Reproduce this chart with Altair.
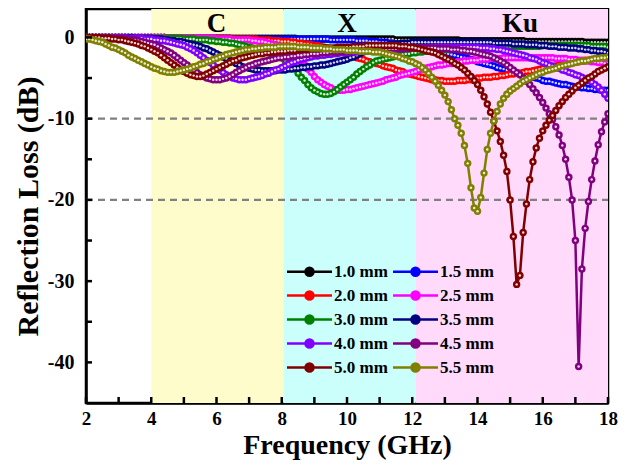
import altair as alt
import pandas as pd

# ---------------- data ----------------
FREQ = [round(2 + 0.1 * i, 1) for i in range(161)]  # 2.0 ... 18.0 GHz grid

SERIES = ["1.0 mm", "1.5 mm", "2.0 mm", "2.5 mm", "3.0 mm",
          "3.5 mm", "4.0 mm", "4.5 mm", "5.0 mm", "5.5 mm"]
COLORS = ["#000000", "#0000FF", "#FF0000", "#FF00FF", "#008000",
          "#000080", "#8000FF", "#800080", "#800000", "#808000"]

RL_10 = [0.0, 0.0, 0.0, 0.0, 0.0, 0.0, 0.0, 0.0, 0.0, 0.0,
         0.0, 0.0, 0.0, 0.0, 0.0, 0.0, 0.0, 0.0, 0.0, 0.0,
         0.0, 0.0, 0.0, 0.0, 0.0, -0.1, -0.1, -0.1, -0.1, -0.1,
         -0.1, -0.1, -0.1, -0.1, -0.1, -0.1, -0.1, -0.1, -0.1, -0.1,
         -0.1, -0.1, -0.1, -0.1, -0.1, -0.1, -0.1, -0.1, -0.1, -0.1,
         -0.1, -0.1, -0.1, -0.1, -0.1, -0.1, -0.1, -0.1, -0.1, -0.1,
         -0.1, -0.1, -0.1, -0.1, -0.1, -0.2, -0.2, -0.2, -0.2, -0.2,
         -0.2, -0.2, -0.2, -0.2, -0.2, -0.2, -0.2, -0.2, -0.2, -0.2,
         -0.2, -0.2, -0.2, -0.2, -0.2, -0.2, -0.2, -0.2, -0.2, -0.2,
         -0.2, -0.2, -0.2, -0.2, -0.2, -0.3, -0.3, -0.3, -0.3, -0.3,
         -0.3, -0.3, -0.3, -0.3, -0.3, -0.3, -0.3, -0.3, -0.3, -0.3,
         -0.3, -0.3, -0.3, -0.3, -0.3, -0.4, -0.4, -0.4, -0.4, -0.4,
         -0.4, -0.4, -0.4, -0.4, -0.4, -0.4, -0.4, -0.4, -0.4, -0.4,
         -0.4, -0.4, -0.4, -0.4, -0.4, -0.5, -0.5, -0.5, -0.5, -0.5,
         -0.5, -0.5, -0.5, -0.5, -0.5, -0.5, -0.5, -0.5, -0.5, -0.5,
         -0.5, -0.5, -0.5, -0.6, -0.6, -0.6, -0.6, -0.6, -0.6, -0.6,
         -0.6]

RL_15 = [0.0, 0.0, 0.0, 0.0, 0.0, 0.0, 0.0, 0.0, 0.0, 0.0,
         0.0, 0.0, 0.0, 0.0, 0.0, 0.0, 0.0, 0.0, 0.0, 0.0,
         0.0, 0.0, 0.0, 0.0, 0.0, -0.1, -0.1, -0.1, -0.1, -0.1,
         -0.1, -0.1, -0.1, -0.1, -0.1, -0.1, -0.1, -0.1, -0.1, -0.1,
         -0.1, -0.1, -0.1, -0.1, -0.1, -0.2, -0.2, -0.2, -0.2, -0.2,
         -0.2, -0.2, -0.2, -0.2, -0.2, -0.2, -0.2, -0.2, -0.2, -0.2,
         -0.2, -0.2, -0.2, -0.2, -0.2, -0.2, -0.2, -0.2, -0.2, -0.2,
         -0.2, -0.2, -0.2, -0.2, -0.2, -0.3, -0.3, -0.3, -0.3, -0.3,
         -0.3, -0.3, -0.3, -0.4, -0.4, -0.4, -0.4, -0.5, -0.5, -0.5,
         -0.6, -0.6, -0.6, -0.7, -0.7, -0.8, -0.8, -0.9, -0.9, -1.0,
         -1.1, -1.1, -1.2, -1.3, -1.3, -1.4, -1.5, -1.6, -1.7, -1.8,
         -1.9, -2.0, -2.1, -2.2, -2.3, -2.4, -2.5, -2.6, -2.7, -2.8,
         -3.0, -3.1, -3.2, -3.3, -3.4, -3.5, -3.7, -3.8, -3.9, -4.0,
         -4.2, -4.3, -4.4, -4.5, -4.6, -4.7, -4.8, -4.9, -5.0, -5.1,
         -5.3, -5.4, -5.4, -5.5, -5.6, -5.7, -5.8, -5.8, -5.9, -6.0,
         -6.1, -6.1, -6.2, -6.2, -6.3, -6.3, -6.4, -6.4, -6.5, -6.5,
         -6.5]

RL_20 = [0.0, 0.0, 0.0, 0.0, 0.0, 0.0, 0.0, 0.0, 0.0, 0.0,
         0.0, 0.0, 0.0, 0.0, 0.0, 0.0, 0.0, 0.0, 0.0, 0.0,
         0.0, 0.0, 0.0, 0.0, 0.0, -0.1, -0.1, -0.1, -0.1, -0.1,
         -0.1, -0.1, -0.1, -0.1, -0.1, -0.1, -0.1, -0.1, -0.1, -0.1,
         -0.1, -0.1, -0.1, -0.1, -0.1, -0.2, -0.2, -0.2, -0.2, -0.2,
         -0.2, -0.2, -0.2, -0.3, -0.3, -0.3, -0.3, -0.4, -0.4, -0.4,
         -0.5, -0.5, -0.5, -0.6, -0.6, -0.7, -0.7, -0.8, -0.8, -0.9,
         -1.0, -1.0, -1.1, -1.2, -1.3, -1.4, -1.5, -1.6, -1.8, -1.9,
         -2.0, -2.2, -2.3, -2.5, -2.6, -2.7, -2.9, -3.0, -3.1, -3.2,
         -3.3, -3.5, -3.6, -3.7, -3.8, -4.0, -4.1, -4.2, -4.4, -4.5,
         -4.6, -4.7, -4.8, -4.9, -5.0, -5.1, -5.2, -5.2, -5.3, -5.3,
         -5.4, -5.4, -5.4, -5.4, -5.3, -5.3, -5.3, -5.2, -5.2, -5.1,
         -5.0, -5.0, -4.9, -4.9, -4.9, -4.8, -4.8, -4.7, -4.7, -4.6,
         -4.5, -4.5, -4.4, -4.4, -4.3, -4.2, -4.2, -4.1, -4.0, -3.9,
         -3.8, -3.7, -3.7, -3.6, -3.5, -3.4, -3.3, -3.2, -3.2, -3.1,
         -3.0, -3.0, -2.9, -2.8, -2.8, -2.7, -2.7, -2.6, -2.5, -2.5,
         -2.4]

RL_25 = [0.0, 0.0, 0.0, 0.0, 0.0, 0.0, 0.0, 0.0, 0.0, 0.0,
         0.0, 0.0, 0.0, 0.0, 0.0, 0.0, 0.0, 0.0, 0.0, 0.0,
         0.0, 0.0, 0.0, 0.0, 0.0, -0.1, -0.1, -0.1, -0.1, -0.1,
         -0.1, -0.1, -0.1, -0.1, -0.1, -0.1, -0.1, -0.1, -0.1, -0.1,
         -0.2, -0.2, -0.2, -0.2, -0.2, -0.3, -0.3, -0.3, -0.3, -0.3,
         -0.3, -0.4, -0.4, -0.5, -0.5, -0.6, -0.7, -0.8, -0.9, -1.0,
         -1.2, -1.4, -1.6, -1.9, -2.2, -2.6, -3.0, -3.4, -3.9, -4.3,
         -4.8, -5.2, -5.5, -5.8, -6.0, -6.2, -6.4, -6.5, -6.5, -6.5,
         -6.4, -6.4, -6.3, -6.2, -6.1, -6.0, -5.9, -5.8, -5.7, -5.6,
         -5.5, -5.4, -5.2, -5.1, -5.0, -4.9, -4.7, -4.6, -4.5, -4.4,
         -4.3, -4.2, -4.0, -3.9, -3.8, -3.7, -3.6, -3.5, -3.4, -3.4,
         -3.3, -3.2, -3.2, -3.1, -3.0, -3.0, -2.9, -2.9, -2.8, -2.8,
         -2.8, -2.7, -2.7, -2.7, -2.6, -2.6, -2.6, -2.6, -2.5, -2.5,
         -2.5, -2.5, -2.5, -2.5, -2.5, -2.5, -2.5, -2.5, -2.5, -2.5,
         -2.5, -2.5, -2.5, -2.5, -2.6, -2.6, -2.6, -2.6, -2.7, -2.7,
         -2.7, -2.8, -2.8, -2.9, -2.9, -3.0, -3.0, -3.1, -3.1, -3.2,
         -3.2]

RL_30 = [0.0, 0.0, 0.0, 0.0, 0.0, 0.0, 0.0, 0.0, 0.0, 0.0,
         0.0, 0.0, 0.0, 0.0, 0.0, -0.1, -0.1, -0.1, -0.1, -0.1,
         -0.1, -0.1, -0.1, -0.1, -0.1, -0.1, -0.1, -0.1, -0.1, -0.1,
         -0.2, -0.2, -0.2, -0.2, -0.3, -0.3, -0.3, -0.3, -0.4, -0.4,
         -0.5, -0.5, -0.6, -0.6, -0.7, -0.7, -0.8, -0.9, -1.0, -1.1,
         -1.2, -1.3, -1.4, -1.5, -1.6, -1.8, -1.9, -2.0, -2.2, -2.3,
         -2.5, -2.8, -3.1, -3.5, -3.9, -4.4, -4.9, -5.3, -5.8, -6.2,
         -6.5, -6.7, -6.9, -7.0, -7.0, -6.9, -6.7, -6.4, -6.1, -5.8,
         -5.5, -5.2, -4.9, -4.5, -4.2, -3.9, -3.6, -3.4, -3.1, -2.9,
         -2.8, -2.7, -2.6, -2.5, -2.4, -2.3, -2.2, -2.1, -2.0, -2.0,
         -1.9, -1.9, -1.8, -1.8, -1.7, -1.7, -1.6, -1.6, -1.6, -1.5,
         -1.5, -1.5, -1.4, -1.4, -1.4, -1.4, -1.3, -1.3, -1.3, -1.3,
         -1.3, -1.2, -1.2, -1.2, -1.2, -1.2, -1.2, -1.1, -1.1, -1.1,
         -1.1, -1.1, -1.1, -1.1, -1.1, -1.1, -1.1, -1.1, -1.1, -1.1,
         -1.0, -1.0, -1.0, -1.0, -1.0, -1.0, -1.0, -1.0, -1.0, -1.0,
         -1.0, -1.0, -1.0, -1.0, -1.0, -1.1, -1.1, -1.1, -1.1, -1.1,
         -1.2]

RL_35 = [0.0, 0.0, 0.0, 0.0, 0.0, 0.0, 0.0, 0.0, 0.0, 0.0,
         0.0, 0.0, 0.0, 0.0, 0.0, -0.1, -0.1, -0.1, -0.1, -0.1,
         -0.1, -0.2, -0.2, -0.2, -0.3, -0.3, -0.4, -0.4, -0.5, -0.5,
         -0.6, -0.7, -0.8, -0.9, -1.0, -1.1, -1.3, -1.4, -1.6, -1.8,
         -2.0, -2.2, -2.4, -2.6, -2.8, -3.0, -3.2, -3.4, -3.6, -3.7,
         -3.8, -3.9, -4.0, -4.0, -4.1, -4.1, -4.1, -4.1, -4.1, -4.0,
         -4.0, -4.0, -3.9, -3.9, -3.8, -3.8, -3.7, -3.7, -3.6, -3.6,
         -3.5, -3.5, -3.4, -3.4, -3.3, -3.2, -3.1, -3.0, -2.9, -2.8,
         -2.7, -2.5, -2.4, -2.2, -2.0, -1.8, -1.7, -1.5, -1.4, -1.3,
         -1.2, -1.1, -1.0, -0.9, -0.9, -0.8, -0.8, -0.7, -0.7, -0.7,
         -0.6, -0.6, -0.6, -0.6, -0.6, -0.6, -0.6, -0.6, -0.6, -0.6,
         -0.6, -0.6, -0.6, -0.6, -0.6, -0.6, -0.6, -0.6, -0.6, -0.6,
         -0.6, -0.6, -0.6, -0.6, -0.6, -0.7, -0.7, -0.7, -0.7, -0.7,
         -0.7, -0.8, -0.8, -0.8, -0.8, -0.9, -0.9, -0.9, -0.9, -1.0,
         -1.0, -1.0, -1.1, -1.1, -1.1, -1.2, -1.2, -1.2, -1.3, -1.3,
         -1.3, -1.4, -1.4, -1.5, -1.5, -1.6, -1.6, -1.7, -1.7, -1.8,
         -1.9]

RL_40 = [0.0, 0.0, 0.0, 0.0, 0.0, 0.0, 0.0, 0.0, 0.0, 0.0,
         0.0, 0.0, 0.0, -0.1, -0.1, -0.1, -0.1, -0.1, -0.2, -0.2,
         -0.2, -0.3, -0.3, -0.4, -0.4, -0.5, -0.6, -0.7, -0.8, -0.9,
         -1.0, -1.2, -1.4, -1.6, -1.9, -2.2, -2.5, -2.8, -3.1, -3.4,
         -3.7, -4.0, -4.3, -4.6, -4.8, -5.0, -5.1, -5.2, -5.2, -5.2,
         -5.1, -5.0, -4.9, -4.8, -4.7, -4.5, -4.4, -4.2, -4.0, -3.9,
         -3.7, -3.5, -3.3, -3.1, -3.0, -2.8, -2.7, -2.6, -2.5, -2.4,
         -2.3, -2.3, -2.2, -2.2, -2.1, -2.1, -2.0, -2.0, -1.9, -1.9,
         -1.9, -1.8, -1.8, -1.8, -1.7, -1.7, -1.7, -1.6, -1.6, -1.6,
         -1.5, -1.5, -1.5, -1.5, -1.4, -1.4, -1.4, -1.4, -1.3, -1.3,
         -1.3, -1.3, -1.3, -1.3, -1.3, -1.2, -1.2, -1.2, -1.2, -1.2,
         -1.2, -1.2, -1.2, -1.2, -1.2, -1.2, -1.2, -1.2, -1.2, -1.2,
         -1.2, -1.3, -1.3, -1.3, -1.4, -1.4, -1.5, -1.5, -1.6, -1.7,
         -1.8, -1.9, -2.0, -2.1, -2.2, -2.3, -2.5, -2.6, -2.7, -2.9,
         -3.1, -3.2, -3.4, -3.5, -3.7, -3.8, -4.0, -4.1, -4.3, -4.4,
         -4.6, -4.7, -4.9, -5.1, -5.3, -5.5, -5.8, -6.1, -6.5, -7.0,
         -7.5]

RL_45 = [0.0, 0.0, 0.0, 0.0, 0.0, 0.0, 0.0, 0.0, -0.1, -0.1,
         -0.1, -0.1, -0.2, -0.2, -0.3, -0.3, -0.4, -0.5, -0.6, -0.7,
         -0.8, -0.9, -1.1, -1.3, -1.5, -1.7, -1.9, -2.2, -2.5, -2.8,
         -3.1, -3.4, -3.7, -4.0, -4.3, -4.6, -4.8, -5.0, -5.1, -5.2,
         -5.2, -5.2, -5.1, -5.0, -4.8, -4.6, -4.3, -4.1, -3.9, -3.7,
         -3.5, -3.4, -3.2, -3.1, -3.0, -2.9, -2.8, -2.7, -2.6, -2.5,
         -2.5, -2.4, -2.4, -2.3, -2.3, -2.2, -2.2, -2.1, -2.1, -2.0,
         -2.0, -2.0, -1.9, -1.9, -1.9, -1.8, -1.8, -1.8, -1.7, -1.7,
         -1.7, -1.7, -1.6, -1.6, -1.6, -1.6, -1.5, -1.5, -1.5, -1.5,
         -1.4, -1.4, -1.4, -1.4, -1.4, -1.4, -1.4, -1.4, -1.4, -1.4,
         -1.3, -1.3, -1.3, -1.3, -1.3, -1.3, -1.3, -1.3, -1.4, -1.4,
         -1.4, -1.4, -1.5, -1.5, -1.5, -1.6, -1.6, -1.7, -1.7, -1.8,
         -1.9, -2.0, -2.1, -2.2, -2.3, -2.5, -2.7, -2.9, -3.1, -3.4,
         -3.7, -4.0, -4.3, -4.6, -5.0, -5.4, -5.8, -6.3, -6.8, -7.4,
         -8.0, -8.7, -9.4, -10.1, -11.0, -12.0, -13.3, -15.0, -17.2, -20.0,
         -25.0, -40.5, -28.5, -23.5, -20.2, -17.5, -15.2, -13.2, -11.6, -10.4,
         -9.4]

RL_50 = [0.0, 0.0, 0.0, 0.0, 0.0, -0.1, -0.1, -0.1, -0.2, -0.2,
         -0.3, -0.3, -0.4, -0.5, -0.6, -0.7, -0.8, -1.0, -1.1, -1.3,
         -1.5, -1.7, -1.9, -2.2, -2.5, -2.8, -3.1, -3.4, -3.7, -4.0,
         -4.2, -4.4, -4.6, -4.7, -4.8, -4.8, -4.7, -4.5, -4.3, -4.1,
         -3.9, -3.7, -3.5, -3.3, -3.1, -2.9, -2.8, -2.6, -2.5, -2.4,
         -2.3, -2.2, -2.1, -2.0, -2.0, -1.9, -1.9, -1.8, -1.8, -1.7,
         -1.7, -1.7, -1.6, -1.6, -1.6, -1.5, -1.5, -1.5, -1.5, -1.4,
         -1.4, -1.4, -1.4, -1.3, -1.3, -1.3, -1.3, -1.2, -1.2, -1.2,
         -1.2, -1.2, -1.1, -1.1, -1.1, -1.1, -1.0, -1.0, -1.0, -1.0,
         -1.0, -1.0, -1.0, -1.0, -1.0, -1.0, -1.1, -1.1, -1.1, -1.2,
         -1.2, -1.3, -1.4, -1.5, -1.6, -1.7, -1.8, -1.9, -2.1, -2.3,
         -2.5, -2.7, -2.9, -3.2, -3.4, -3.7, -4.0, -4.4, -4.8, -5.3,
         -5.8, -6.5, -7.3, -8.2, -9.2, -10.3, -11.5, -12.8, -14.5, -16.5,
         -20.0, -24.5, -30.4, -29.3, -24.0, -20.5, -17.5, -15.3, -13.6, -12.4,
         -11.5, -10.8, -10.2, -9.6, -9.0, -8.4, -7.9, -7.4, -7.0, -6.6,
         -6.2, -5.9, -5.6, -5.3, -5.0, -4.8, -4.5, -4.2, -4.0, -3.8,
         -3.6]

RL_55 = [-0.2, -0.2, -0.3, -0.4, -0.5, -0.6, -0.8, -1.0, -1.2, -1.3,
         -1.5, -1.7, -1.9, -2.2, -2.4, -2.6, -2.8, -3.0, -3.2, -3.4,
         -3.6, -3.8, -3.9, -4.1, -4.2, -4.3, -4.3, -4.3, -4.2, -4.1,
         -4.0, -3.9, -3.8, -3.6, -3.5, -3.3, -3.2, -3.0, -2.9, -2.7,
         -2.6, -2.4, -2.3, -2.1, -2.0, -1.9, -1.8, -1.7, -1.6, -1.5,
         -1.5, -1.4, -1.4, -1.3, -1.3, -1.2, -1.2, -1.2, -1.2, -1.1,
         -1.1, -1.1, -1.1, -1.1, -1.1, -1.2, -1.2, -1.2, -1.2, -1.3,
         -1.3, -1.3, -1.3, -1.4, -1.4, -1.4, -1.5, -1.5, -1.5, -1.5,
         -1.6, -1.6, -1.6, -1.6, -1.7, -1.7, -1.7, -1.7, -1.8, -1.8,
         -1.8, -1.9, -2.0, -2.1, -2.2, -2.3, -2.4, -2.6, -2.7, -2.9,
         -3.0, -3.2, -3.4, -3.7, -4.0, -4.4, -4.9, -5.4, -5.9, -6.5,
         -7.1, -7.9, -8.9, -10.0, -10.8, -11.8, -13.3, -15.5, -18.5, -21.0,
         -21.4, -19.7, -16.7, -13.8, -11.8, -10.3, -9.1, -8.2, -7.5, -7.0,
         -6.6, -6.3, -6.0, -5.7, -5.4, -5.2, -5.0, -4.8, -4.6, -4.4,
         -4.3, -4.1, -4.0, -3.9, -3.8, -3.6, -3.5, -3.4, -3.3, -3.2,
         -3.1, -3.0, -2.9, -2.9, -2.8, -2.7, -2.6, -2.6, -2.5, -2.5,
         -2.4]

VALUES = [RL_10, RL_15, RL_20, RL_25, RL_30, RL_35, RL_40, RL_45, RL_50, RL_55]

BAND_START = [4.0, 8.05, 12.1]
BAND_END = [8.05, 12.1, 18.0]
BAND_COLORS = ["#FFFCCB", "#CAFFFC", "#FFDAFB"]
BAND_NAMES = ["C", "X", "Ku"]
BAND_NAME_X = [6.0, 10.0, 15.3]
BAND_NAME_Y = [1.7, 1.7, 1.7]

REF_LINES = [-10, -20]
X_TICKS = [2, 4, 6, 8, 10, 12, 14, 16, 18]
X_MINOR = [3, 5, 7, 9, 11, 13, 15, 17]
Y_TICKS = [0, -10, -20, -30, -40]
Y_MINOR = [-5, -15, -25, -35]

# ---------------- build ----------------
W, H = 522, 394
FONT = "Liberation Serif"

rows = []
for name, vals in zip(SERIES, VALUES):
    if len(vals) != len(FREQ):
        raise ValueError(f"{name}: {len(vals)} values")
    for f, v in zip(FREQ, vals):
        rows.append({"freq": f, "rl": v, "series": name})
df = pd.DataFrame(rows)

xs = alt.Scale(domain=[2, 18], nice=False, zero=False)
ys = alt.Scale(domain=[-45, 3.5], nice=False, zero=False)

x_axis = alt.Axis(values=X_TICKS, ticks=False, grid=False, labelFontSize=19,
                  labelFont=FONT, labelFontWeight="bold", labelColor="black",
                  labelFlush=False, labelPadding=6, title="Frequency (GHz)",
                  titleFont=FONT, titleFontSize=28, titleFontWeight="bold",
                  titleColor="black", titlePadding=3, domainColor="black",
                  domainWidth=2.5)
y_axis = alt.Axis(values=Y_TICKS, ticks=False, grid=False, labelFontSize=20,
                  labelFont=FONT, labelFontWeight="bold", labelColor="black",
                  labelExpr="'' + datum.value", labelFlush=False,
                  labelPadding=12, title="Reflection Loss (dB)", titleFont=FONT,
                  titleFontSize=30, titleFontWeight="bold", titleColor="black",
                  titlePadding=4, domainColor="black", domainWidth=2.5)

# line-with-ball legend symbol (unit = 5 px for symbolSize 100)
LEGEND_SYMBOL = ("M-4.5,0L4.5,0M0.8,0A0.8,0.8,0,1,1,-0.8,0"
                 "A0.8,0.8,0,1,1,0.8,0Z")
legend = alt.Legend(
    title=None, orient="none", legendX=215, legendY=254, columns=2,
    direction="horizontal",
    symbolType=LEGEND_SYMBOL, symbolSize=100, symbolStrokeWidth=2.5,
    symbolOpacity=1,
    labelFont=FONT, labelFontSize=17, labelFontWeight="bold",
    labelColor="black", labelOffset=16, columnPadding=0, rowPadding=5,
    padding=0)
color = alt.Color("series:N", scale=alt.Scale(domain=SERIES, range=COLORS),
                  sort=SERIES, legend=legend)

bands_df = pd.DataFrame({"start": BAND_START, "end": BAND_END,
                         "col": BAND_COLORS})
bands = alt.Chart(bands_df).mark_rect().encode(
    x=alt.X("start:Q", scale=xs, axis=x_axis), x2="end:Q",
    y=alt.value(0), y2=alt.value(H),
    fill=alt.Fill("col:N", scale=None))

refs = alt.Chart(pd.DataFrame({"v": REF_LINES})).mark_rule(
    color="#808080", strokeWidth=2.2, strokeDash=[7, 5]).encode(
    y=alt.Y("v:Q", scale=ys, axis=y_axis), x=alt.value(0), x2=alt.value(W))

names = alt.Chart(pd.DataFrame({"t": BAND_NAMES, "x": BAND_NAME_X,
                                "y": BAND_NAME_Y})).mark_text(
    font=FONT, fontSize=27, fontWeight="bold", color="black",
    baseline="middle", align="center").encode(
    x=alt.X("x:Q", scale=xs), y=alt.Y("y:Q", scale=ys), text="t:N")

layers = [bands, refs, names]
base = alt.Chart(df)
for name in SERIES:
    sub = base.transform_filter(alt.datum.series == name)
    layers.append(sub.mark_line(strokeWidth=2.5, clip=True).encode(
        x=alt.X("freq:Q", scale=xs), y=alt.Y("rl:Q", scale=ys), color=color))
    layers.append(sub.mark_circle(size=55, opacity=1, clip=True).encode(
        x=alt.X("freq:Q", scale=xs), y=alt.Y("rl:Q", scale=ys), color=color))
    layers.append(sub.mark_circle(size=6, opacity=0.85, color="white",
                                  clip=True).encode(
        x=alt.X("freq:Q", scale=xs), y=alt.Y("rl:Q", scale=ys)))

xt = alt.Chart(pd.DataFrame({"v": X_TICKS + X_MINOR})).mark_rule(
    color="black", strokeWidth=2.5).encode(
    x=alt.X("v:Q", scale=xs), y=alt.value(H), y2=alt.value(H - 6))
yt = alt.Chart(pd.DataFrame({"v": Y_TICKS + Y_MINOR})).mark_rule(
    color="black", strokeWidth=2.5).encode(
    y=alt.Y("v:Q", scale=ys), x=alt.value(0), x2=alt.value(6))
layers += [xt, yt]

chart = alt.layer(*layers).properties(
    width=W, height=H,
    autosize=alt.AutoSizeParams(type="none"),
    padding={"left": 78, "top": 1, "right": 10, "bottom": 58},
    background="white",
).configure_view(stroke="black", strokeWidth=2.5)

chart.save("out.html", embed_options={"renderer": "svg", "actions": False})
